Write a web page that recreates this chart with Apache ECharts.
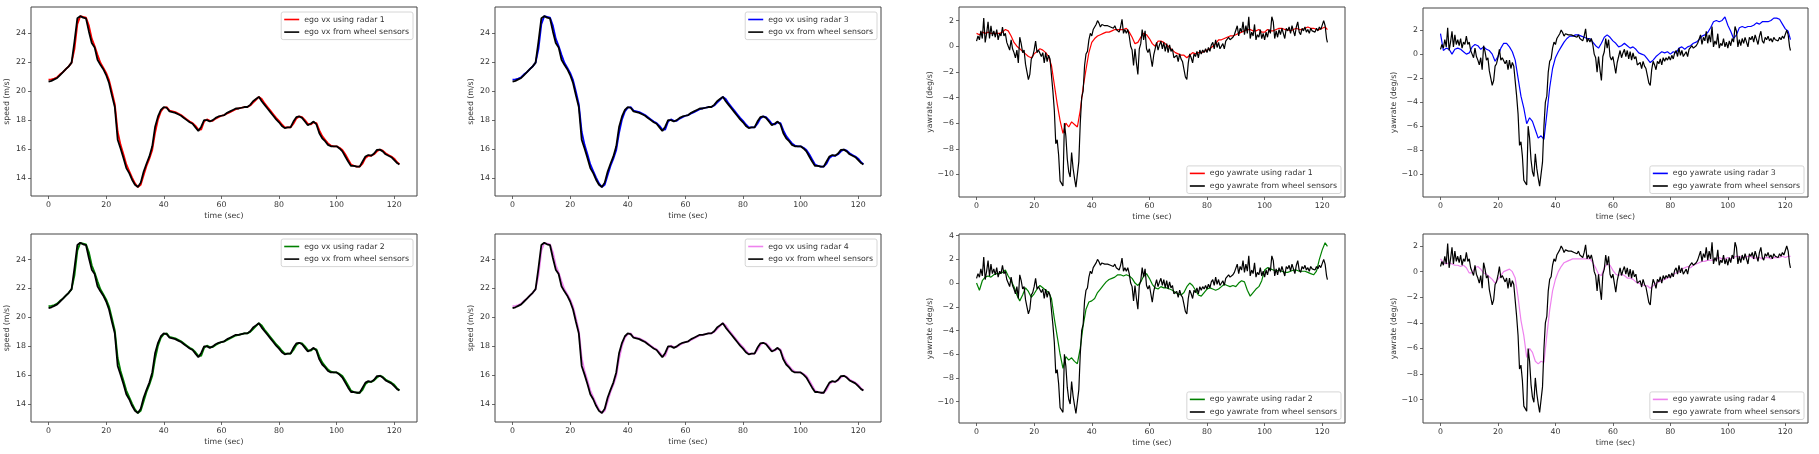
<!DOCTYPE html>
<html>
<head>
<meta charset="utf-8">
<title>ego vx / yawrate</title>
<script src="https://cdn.jsdelivr.net/npm/echarts@6/dist/echarts.min.js"></script>
<style>
  html, body { margin: 0; padding: 0; background: #fff; }
  #chart { width: 1819px; height: 454px; }
</style>
</head>
<body>
<div id="chart"></div>
<script>
// sample times (sec) for the speed traces and the radar yawrate traces
const timeSec = [
  0, 1, 2, 3, 4, 5, 6, 7, 8, 9,
  10, 11, 12, 13, 14, 15, 16, 17, 18, 19,
  20, 21, 22, 23, 24, 25, 26, 27, 28, 29,
  30, 31, 32, 33, 34, 35, 36, 37, 38, 39,
  40, 41, 42, 43, 44, 45, 46, 47, 48, 49,
  50, 51, 52, 53, 54, 55, 56, 57, 58, 59,
  60, 61, 62, 63, 64, 65, 66, 67, 68, 69,
  70, 71, 72, 73, 74, 75, 76, 77, 78, 79,
  80, 81, 82, 83, 84, 85, 86, 87, 88, 89,
  90, 91, 92, 93, 94, 95, 96, 97, 98, 99,
  100, 101, 102, 103, 104, 105, 106, 107, 108, 109,
  110, 111, 112, 113, 114, 115, 116, 117, 118, 119,
  120, 121, 121.8
];

// ego vx from wheel sensors (m/s)
const vxWheel = [
  20.64, 20.7, 20.8, 20.9, 21.1, 21.3, 21.5, 21.7, 21.95, 23.4,
  25.0, 25.15, 25.05, 25.0, 24.1, 23.3, 23.0, 22.15, 21.8, 21.5,
  21.1, 20.55, 19.7, 18.9, 16.65, 16.05, 15.4, 14.7, 14.35, 13.9,
  13.55, 13.4, 13.7, 14.45, 15.0, 15.5, 16.2, 17.55, 18.25, 18.7,
  18.9, 18.85, 18.6, 18.55, 18.5, 18.4, 18.3, 18.15, 18.0, 17.85,
  17.75, 17.5, 17.25, 17.55, 18.0, 18.0, 17.9, 18.0, 18.15, 18.25,
  18.3, 18.35, 18.5, 18.6, 18.7, 18.8, 18.8, 18.85, 18.9, 18.9,
  19.05, 19.3, 19.45, 19.6, 19.3, 19.05, 18.8, 18.55, 18.3, 18.05,
  17.85, 17.6, 17.45, 17.5, 17.5, 17.9, 18.2, 18.25, 18.15, 17.9,
  17.65, 17.75, 17.9, 17.7, 17.1, 16.75, 16.55, 16.3, 16.2, 16.2,
  16.2, 16.05, 15.85, 15.5, 15.15, 14.85, 14.85, 14.8, 14.8, 15.15,
  15.5, 15.6, 15.55, 15.7, 15.95, 15.97, 15.85, 15.65, 15.55, 15.45,
  15.25, 15.05, 14.95
];

// ego vx using radar (same trace for radars 1-4 at this resolution)
const vxRadar = [
  20.78, 20.8, 20.85, 20.95, 21.15, 21.3, 21.5, 21.7, 21.95, 22.9,
  24.6, 25.15, 25.1, 25.05, 24.5, 23.6, 23.1, 22.5, 21.95, 21.6,
  21.25, 20.75, 19.95, 19.1, 17.2, 16.3, 15.65, 14.95, 14.5, 14.05,
  13.65, 13.4, 13.55, 14.2, 14.85, 15.35, 15.95, 17.15, 18.05, 18.6,
  18.85, 18.9, 18.65, 18.6, 18.55, 18.45, 18.35, 18.2, 18.05, 17.9,
  17.8, 17.6, 17.35, 17.35, 17.9, 18.05, 17.95, 17.95, 18.1, 18.2,
  18.3, 18.35, 18.45, 18.55, 18.65, 18.75, 18.8, 18.85, 18.9, 18.9,
  19.0, 19.2, 19.4, 19.6, 19.45, 19.15, 18.9, 18.65, 18.4, 18.15,
  17.95, 17.7, 17.5, 17.5, 17.5, 17.75, 18.1, 18.25, 18.2, 18.0,
  17.75, 17.7, 17.85, 17.8, 17.3, 16.9, 16.65, 16.4, 16.25, 16.2,
  16.2, 16.1, 15.95, 15.65, 15.3, 14.95, 14.85, 14.8, 14.8, 15.0,
  15.4, 15.55, 15.55, 15.65, 15.85, 15.98, 15.9, 15.72, 15.6, 15.5,
  15.35, 15.1, 14.97
];

// sample times (sec) for the wheel yawrate
const yawTime = [
  0, 0.5, 1, 1.5, 2, 2.5, 3, 3.5, 4, 4.5, 5, 5.5, 6, 6.5, 7, 7.5, 8, 8.5, 9, 9.5,
  10, 10.5, 11, 11.5, 12, 12.5, 13, 13.5, 14, 14.5, 15, 15.5, 16, 16.5, 17, 17.5, 18, 18.5, 19, 19.5,
  20, 20.5, 21, 21.5, 22, 22.5, 23, 23.5, 24, 24.5, 25, 25.5, 26, 26.5, 27, 27.5, 28, 28.5, 29, 29.5,
  30, 30.5, 31, 31.5, 32, 32.5, 33, 33.5, 34, 34.5, 35, 35.5, 36, 36.5, 37, 37.5, 38, 38.5, 39, 39.5,
  40, 40.5, 41, 41.5, 42, 42.5, 43, 43.5, 44, 44.5, 45, 45.5, 46, 46.5, 47, 47.5, 48, 48.5, 49, 49.5,
  50, 50.5, 51, 51.5, 52, 52.5, 53, 53.5, 54, 54.5, 55, 55.5, 56, 56.5, 57, 57.5, 58, 58.5, 59, 59.5,
  60, 60.5, 61, 61.5, 62, 62.5, 63, 63.5, 64, 64.5, 65, 65.5, 66, 66.5, 67, 67.5, 68, 68.5, 69, 69.5,
  70, 70.5, 71, 71.5, 72, 72.5, 73, 73.5, 74, 74.5, 75, 75.5, 76, 76.5, 77, 77.5, 78, 78.5, 79, 79.5,
  80, 80.5, 81, 81.5, 82, 82.5, 83, 83.5, 84, 84.5, 85, 85.5, 86, 86.5, 87, 87.5, 88, 88.5, 89, 89.5,
  90, 90.5, 91, 91.5, 92, 92.5, 93, 93.5, 94, 94.5, 95, 95.5, 96, 96.5, 97, 97.5, 98, 98.5, 99, 99.5,
  100, 100.5, 101, 101.5, 102, 102.5, 103, 103.5, 104, 104.5, 105, 105.5, 106, 106.5, 107, 107.5, 108, 108.5, 109, 109.5,
  110, 110.5, 111, 111.5, 112, 112.5, 113, 113.5, 114, 114.5, 115, 115.5, 116, 116.5, 117, 117.5, 118, 118.5, 119, 119.5,
  120, 120.5, 121, 121.5, 121.8
];

// ego yawrate from wheel sensors (deg/s)
const yawWheel = [
  0.4, 0.8, 0.5, 1.2, 0.6, 2.2, 0.3, 1.0, 1.9, 0.6, 1.6, 0.8, 1.2, 0.7, 1.3, 0.5, 1.0, 0.8, 1.5, 0.8,
  1.0, 0.3, 0.0, -0.3, 0.5, -0.2, -0.5, -0.9, -0.3, -1.3, 0.7, 0.2, -0.5, -0.3, -1.4, -2.0, -2.6, -2.2, -1.0, -0.8,
  -0.3, 0.4, -0.5, -0.3, -0.4, -0.8, -0.5, -1.3, -0.5, -1.2, -0.7, -1.0, -1.0, -3.5, -5.0, -7.6, -7.3, -8.5, -10.5, -10.7,
  -10.9, -6.0, -7.0, -8.8, -9.8, -10.2, -8.3, -9.5, -10.3, -11.0, -11.0, -9.0, -6.0, -4.0, -3.5, -1.5, -0.6, -0.4, 0.5, 1.0,
  0.8, 1.3, 1.2, 1.7, 2.0, 1.8, 1.5, 1.7, 1.6, 1.6, 1.7, 1.6, 1.7, 1.5, 1.6, 1.4, 1.6, 1.3, 1.4, 1.1,
  1.5, 2.1, 1.0, 1.3, 1.0, 1.3, 0.8, 0.0, -0.3, -1.5, -0.2, -1.3, -2.2, -0.2, 0.2, 1.3, 0.5, 1.2, -0.2, -0.5,
  -0.2, -0.9, -1.6, -0.7, -0.2, 0.3, -0.3, 0.1, 0.4, -0.2, 0.3, -0.4, 0.2, -0.5, 0.1, -0.4, -0.2, -0.9, -1.0, -0.7,
  -1.2, -0.6, -1.0, -1.2, -1.8, -2.4, -2.6, -1.3, -0.6, -0.9, -1.3, -0.6, -0.8, -0.4, -0.9, -0.3, -0.6, -0.3, -0.5, -0.2,
  -0.5, -0.1, -0.4, 0.1, 0.3, -0.2, 0.5, -0.1, 0.3, -0.2, -0.3, 0.2, -0.2, 0.4, 0.3, 0.7, 0.5, 0.4, 0.7, 0.9,
  0.8, 1.6, 0.8, 1.4, 1.1, 1.9, 0.9, 1.6, 1.0, 2.3, 0.6, 1.1, 0.8, 1.7, 0.5, 0.9, 0.7, 1.3, 0.6, 1.0,
  0.5, 1.1, 0.7, 1.3, 1.0, 2.3, 1.9, 0.6, 1.2, 0.7, 1.3, 0.9, 1.4, 1.3, 0.6, 1.4, 1.2, 1.5, 1.0, 1.6,
  1.2, 0.8, 1.5, 1.9, 1.1, 0.9, 1.4, 1.2, 1.5, 1.1, 1.3, 1.0, 1.4, 1.2, 1.3, 1.1, 1.4, 1.2, 1.5, 1.3,
  1.4, 2.0, 1.6, 0.6, 0.3
];

// ego yawrate using radar 1..4 (deg/s), on timeSec
const yawRadar1 = [
  1.0, 0.9, 1.1, 1.0, 1.1, 1.0, 1.0, 1.0, 1.0, 1.1,
  1.3, 1.2, 0.8, 0.3, 0.0, -0.2, -0.4, -0.6, -0.8, -0.9,
  -0.6, -0.4, -0.2, -0.3, -0.5, -0.8, -1.5, -3.0, -4.5, -5.8,
  -6.8, -6.0, -6.3, -5.9, -6.1, -6.3, -5.0, -3.2, -1.8, -0.5,
  0.3, 0.6, 0.8, 0.9, 1.0, 1.1, 1.1, 1.2, 1.3, 1.3,
  1.3, 1.3, 1.4, 1.1, 0.7, 0.2, 0.3, 0.7, 1.0, 0.9,
  0.6, 0.2, 0.0, 0.4, 0.4, 0.3, 0.1, -0.1, -0.3, -0.5,
  -0.6, -0.7, -0.7, -0.9, -0.7, -0.5, -0.6, -0.5, -0.5, -0.4,
  -0.3, -0.2, 0.0, 0.2, 0.5, 0.5, 0.6, 0.7, 0.8, 0.8,
  0.9, 1.0, 1.1, 1.2, 1.3, 1.3, 1.2, 1.2, 1.3, 1.1,
  1.1, 1.3, 1.2, 1.2, 1.3, 1.4, 1.4, 1.3, 1.3, 1.2,
  1.3, 1.4, 1.3, 1.3, 1.4, 1.5, 1.4, 1.4, 1.3, 1.3,
  1.4, 1.5, 1.3
];
const yawRadar2 = [
  0.0, -0.6, 0.2, 0.5, 0.6, 0.5, 0.7, 0.8, 0.8, 0.9,
  1.1, 0.6, 0.2, -0.3, -1.0, -1.5, -1.0, -0.4, -0.7, -1.2,
  -0.9, -0.5, -0.2, -0.4, -0.6, -0.8, -1.3, -3.0, -4.5, -6.0,
  -7.2, -6.2, -6.5, -6.3, -6.6, -6.8, -5.5, -3.6, -2.2, -1.6,
  -1.5, -1.3, -0.8, -0.5, -0.2, 0.1, 0.3, 0.4, 0.5, 0.7,
  0.7, 0.6, 0.7, 0.6, 0.4, 0.0, -0.2, 0.1, 0.6, 0.8,
  0.4, -0.1, -0.4, -0.5, -0.3, -0.4, -0.4, -0.5, -0.6, -0.8,
  -0.9, -1.0, -0.8, -0.3, 0.0, -0.2, -0.6, -1.0, -1.1, -0.8,
  -0.5, -0.4, -0.5, -0.6, -0.5, -0.3, -0.1, -0.2, -0.3, -0.2,
  -0.3, 0.0, 0.2, 0.1, -0.6, -1.1, -0.8, -0.5, -0.3, 0.2,
  1.1, 1.3, 1.2, 1.1, 1.0, 1.1, 1.0, 0.9, 0.9, 1.0,
  1.1, 1.1, 1.0, 1.0, 1.0, 0.9, 0.8, 0.7, 1.0, 2.0,
  2.8, 3.4, 3.1
];
const yawRadar3 = [
  1.7, 0.3, 0.5, 0.4, 0.0, 0.4, 0.5, 0.4, 0.2, 0.0,
  0.1, 0.6, 0.8, 0.7, 0.4, 0.6, 0.4, 0.3, 0.0, -0.6,
  -0.2, 0.5, 0.9, 0.9, 0.6, 0.2, -0.5, -2.0, -3.5, -4.5,
  -5.8, -5.3, -5.6, -6.3, -7.0, -6.8, -7.1, -5.0, -2.8, -1.2,
  -0.3, 0.2, 0.6, 1.0, 1.3, 1.5, 1.5, 1.6, 1.6, 1.5,
  1.4, 1.3, 1.3, 1.0, 0.7, 0.5, 0.9, 1.4, 1.6, 1.4,
  1.1, 0.9, 0.6, 0.7, 0.9, 0.7, 0.5, 0.6, 0.4, 0.1,
  0.0, -0.1, -0.4, -0.7, -0.5, -0.2, 0.0, 0.2, 0.1, 0.2,
  0.0, 0.2, 0.1, 0.5, 0.6, 0.4, 0.6, 0.7, 0.9, 1.0,
  1.2, 1.5, 1.6, 1.8, 2.2, 2.7, 2.8, 2.7, 2.8, 3.1,
  2.4, 1.9, 1.3, 1.6, 2.2, 2.3, 2.2, 2.3, 2.3, 2.4,
  2.6, 2.5, 2.7, 2.7, 2.7, 2.8, 3.0, 3.0, 2.9, 2.5,
  2.1, 1.9, 1.2
];
const yawRadar4 = [
  1.0, 0.7, 0.6, 0.7, 0.6, 0.5, 0.5, 0.4, 0.5, 0.3,
  -0.1, -0.1, 0.3, 0.4, 0.2, -0.1, -0.2, -0.4, -0.6, -0.9,
  -0.6, -0.3, 0.0, 0.1, 0.2, 0.0, -0.5, -2.0, -3.8, -5.0,
  -6.7, -6.0, -6.3, -7.0, -7.2, -7.0, -7.1, -5.0, -3.0, -1.5,
  -0.6, 0.0, 0.4, 0.7, 0.8, 0.9, 1.0, 1.0, 1.0, 1.0,
  1.0, 1.0, 1.0, 0.7, 0.3, -0.2, -0.3, 0.3, 0.6, 0.5,
  0.1, -0.2, -0.3, -0.2, -0.3, -0.5, -0.5, -0.6, -0.8, -0.9,
  -1.0, -1.1, -1.1, -1.3, -1.1, -0.9, -0.8, -0.7, -0.6, -0.5,
  -0.4, -0.2, -0.1, 0.0, 0.2, 0.3, 0.4, 0.3, 0.5, 0.6,
  0.7, 0.8, 0.8, 0.9, 0.9, 0.9, 1.0, 1.1, 1.0, 1.0,
  1.1, 1.0, 1.1, 1.2, 1.2, 1.1, 1.1, 1.2, 1.2, 1.0,
  1.1, 1.1, 1.0, 1.1, 1.1, 1.0, 1.1, 1.1, 1.1, 1.2,
  1.1, 1.2, 1.2
];

// tick labels
const timeTicks = [0, 20, 40, 60, 80, 100, 120];
const speedTicks = [14, 16, 18, 20, 22, 24];
const yawTicks = [-10, -8, -6, -4, -2, 0, 2];
const yawTicksWide = [-10, -8, -6, -4, -2, 0, 2, 4];

document.addEventListener('DOMContentLoaded', () => {
  const chart = echarts.init(document.getElementById('chart'));
  const W = 1819, H = 454;
  const FONT = 'DejaVu Sans';
  const FS = 7.8;

  // one entry per subplot
  const panels = [
    { left: 31, top: 7, w: 386, h: 189, kind: 'vx', radar: 'ego vx using radar 1', color: '#ff0000', x: timeSec, y: vxRadar, min: 12.78, max: 25.78, ticks: speedTicks },
    { left: 495, top: 7, w: 386, h: 189, kind: 'vx', radar: 'ego vx using radar 3', color: '#0000ff', x: timeSec, y: vxRadar, min: 12.78, max: 25.78, ticks: speedTicks },
    { left: 959, top: 7, w: 386, h: 190, kind: 'yaw', radar: 'ego yawrate using radar 1', color: '#ff0000', x: timeSec, y: yawRadar1, min: -11.76, max: 3.06, ticks: yawTicks },
    { left: 1423, top: 8, w: 385, h: 189, kind: 'yaw', radar: 'ego yawrate using radar 3', color: '#0000ff', x: timeSec, y: yawRadar3, min: -11.9, max: 3.84, ticks: yawTicks },
    { left: 31, top: 234, w: 386, h: 188, kind: 'vx', radar: 'ego vx using radar 2', color: '#008000', x: timeSec, y: vxRadar, min: 12.78, max: 25.76, ticks: speedTicks },
    { left: 495, top: 234, w: 386, h: 188, kind: 'vx', radar: 'ego vx using radar 4', color: '#ee82ee', x: timeSec, y: vxRadar, min: 12.78, max: 25.76, ticks: speedTicks },
    { left: 959, top: 234, w: 386, h: 189, kind: 'yaw', radar: 'ego yawrate using radar 2', color: '#008000', x: timeSec, y: yawRadar2, min: -11.8, max: 4.14, ticks: yawTicksWide },
    { left: 1423, top: 234, w: 385, h: 189, kind: 'yaw', radar: 'ego yawrate using radar 4', color: '#ee82ee', x: timeSec, y: yawRadar4, min: -11.82, max: 2.94, ticks: yawTicks }
  ];

  const pairs = (xs, ys) => xs.map((t, i) => [t, ys[i]]);
  const minus = v => (v < 0 ? '\u2212' + Math.abs(v) : String(v));
  const labelStyle = { fontFamily: FONT, fontSize: FS, color: '#333' };

  const grid = [], xAxis = [], yAxis = [], series = [], legend = [];

  panels.forEach((p, i) => {
    const isVx = p.kind === 'vx';
    const wheelName = isVx ? 'ego vx from wheel sensors' : 'ego yawrate from wheel sensors';

    grid.push({
      left: p.left, top: p.top, width: p.w, height: p.h,
      show: true, borderColor: '#444', borderWidth: 1,
      backgroundColor: 'transparent'
    });

    xAxis.push({
      gridIndex: i, type: 'value', min: -6.09, max: 127.9, position: 'bottom',
      name: 'time (sec)', nameLocation: 'middle', nameGap: 16,
      nameTextStyle: labelStyle,
      axisLine: { show: false, onZero: false },
      axisTick: { show: true, length: 3, customValues: timeTicks, lineStyle: { color: '#444', width: 0.8 } },
      axisLabel: Object.assign({ customValues: timeTicks, margin: 5 }, labelStyle),
      splitLine: { show: false }
    });

    yAxis.push({
      gridIndex: i, type: 'value', min: p.min, max: p.max, position: 'left',
      name: isVx ? 'speed (m/s)' : 'yawrate (deg/s)',
      nameLocation: 'middle', nameGap: isVx ? 20 : 25,
      nameTextStyle: labelStyle,
      axisLine: { show: false, onZero: false },
      axisTick: { show: true, length: 3, customValues: p.ticks, lineStyle: { color: '#444', width: 0.8 } },
      axisLabel: Object.assign({ customValues: p.ticks, margin: 5, formatter: minus }, labelStyle),
      splitLine: { show: false }
    });

    const lw = isVx ? 1.8 : 1.2;
    series.push({
      name: p.radar, type: 'line', xAxisIndex: i, yAxisIndex: i,
      data: pairs(p.x, p.y), showSymbol: false, symbol: 'none',
      lineStyle: { color: p.color, width: lw }, itemStyle: { color: p.color },
      animation: false, z: 2
    });
    series.push({
      name: wheelName, type: 'line', xAxisIndex: i, yAxisIndex: i,
      data: isVx ? pairs(timeSec, vxWheel) : pairs(yawTime, yawWheel),
      showSymbol: false, symbol: 'none',
      lineStyle: { color: '#000', width: lw }, itemStyle: { color: '#000' },
      animation: false, z: 3
    });

    const lg = {
      data: [p.radar, wheelName], orient: 'vertical', align: 'left',
      right: W - (p.left + p.w) + 4,
      icon: 'rect', itemWidth: 15, itemHeight: 1.6, itemGap: 2.6,
      padding: [2.5, 4, 2.5, 3],
      backgroundColor: 'rgba(255,255,255,0.85)', borderColor: '#ccc', borderWidth: 0.8, borderRadius: 2,
      textStyle: { fontFamily: FONT, fontSize: FS, color: '#333', lineHeight: 10 },
      selectedMode: false
    };
    if (isVx) lg.top = p.top + 5;
    else lg.bottom = H - (p.top + p.h) + 3.5;
    legend.push(lg);
  });

  chart.setOption({
    backgroundColor: '#fff',
    animation: false,
    grid, xAxis, yAxis, series, legend
  });
  window.addEventListener('resize', () => chart.resize());
});
</script>
</body>
</html>
